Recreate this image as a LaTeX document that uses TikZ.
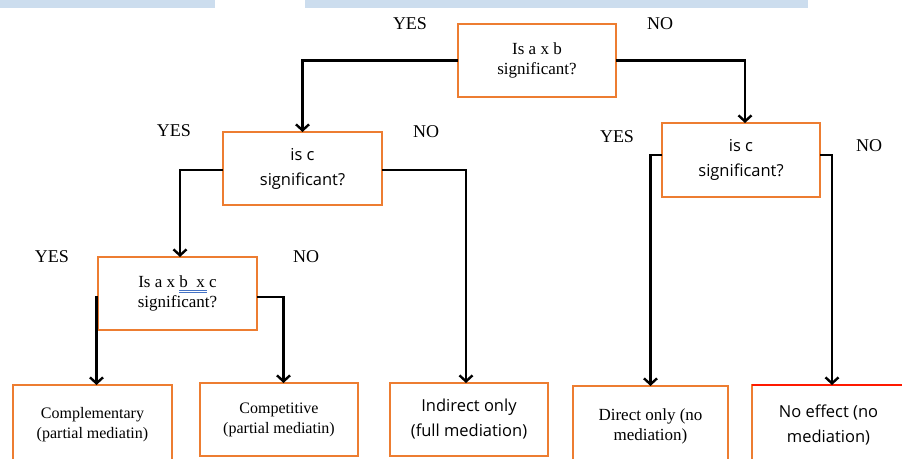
\documentclass[tikz,border=0pt]{standalone}
\usepackage{fontspec}
\setmainfont{Liberation Serif}
\newfontfamily\sansf{Open Sans}
\usetikzlibrary{arrows.meta,calc}
\definecolor{boxorange}{HTML}{ED7D31}
\definecolor{barblue}{HTML}{CCDDEE}
\definecolor{ulblue}{HTML}{4472C4}
\begin{document}
\begin{tikzpicture}[x=1pt,y=-1pt,
  qbox/.style={draw=boxorange,line width=2.2pt,fill=white,inner sep=0pt,outer sep=0pt,
    minimum width=159pt,minimum height=73pt,align=center},
  serif/.style={font=\fontsize{17}{20}\selectfont},
  serifb/.style={font=\fontsize{16}{20}\selectfont},
  sans/.style={font=\sansf\fontsize{16.5}{25}\selectfont},
  lbl/.style={font=\fontsize{18}{20}\selectfont,inner sep=0pt},
  conn/.style={line width=2.8pt,black,-{Straight Barb[length=6pt,width=13pt,line width=2.4pt]}}]
\useasboundingbox (0,0) rectangle (902,458);
\clip (0,0) rectangle (902,458);
% top bars
\fill[barblue] (0,0) rectangle (215,8);
\fill[barblue] (305,0) rectangle (808,8);
% nodes
\node[qbox,serif,minimum width=158pt] (b1) at (537,60.5) {Is a x b\\significant?};
\node[qbox,sans] (b2) at (302.5,168.5) {is c\\significant?};
\node[qbox,sans,minimum width=158pt,minimum height=74pt] (b3) at (741,160) {is c\\significant?};
\node[qbox,serif,minimum height=73pt] (b4) at (177.5,293.5) {Is a x b\ \ x c\\significant?};
\node[qbox,serifb,minimum height=80pt] (comp) at (92.5,425) {Complementary\\(partial mediatin)};
\node[qbox,serifb,minimum width=158pt] (compet) at (279,419.5) {Competitive\\(partial mediatin)};
\node[qbox,sans,minimum width=158pt] (ind) at (469,419.5) {Indirect only\\(full mediation)};
\node[qbox,serif,minimum width=155pt,minimum height=80pt] (dir) at (650.5,426) {Direct only (no\\mediation)};
\node[qbox,sans,minimum width=153pt,minimum height=80pt] (noe) at (828.5,425) {No effect (no\\mediation)};
\draw[red!80!orange,line width=1.5pt] (noe.north west) -- (noe.north east);
% blue double underline
\draw[ulblue,line width=0.8pt] (179,290) -- (207,290) (179,292.5) -- (207,292.5);
% connectors
\draw[conn] (b1.west) -| (b2.north);
\draw[conn] (b1.east) -| ([xshift=4pt]b3.north);
\draw[conn] ([yshift=-1.5pt]b2.west) -| ([xshift=2.5pt]b4.north);
\draw[conn] ([yshift=-1.5pt]b2.east) -| ([xshift=-3pt]ind.north);
\draw[conn] ([yshift=-3.5pt]b4.west) -| ([xshift=4pt]comp.north);
\draw[conn] ([yshift=-3.5pt]b4.east) -| ([xshift=4.5pt]compet.north);
\draw[conn] ([yshift=5pt]b3.west) -| (dir.north);
\draw[conn] ([yshift=5pt]b3.east) -| ([xshift=3.5pt]noe.north);
% labels
\node[lbl] (y1) at (410,24) {YES};
\node[lbl] (n1) at (660,24) {NO};
\node[lbl] (y2) at (174,131) {YES};
\node[lbl] (n2) at (426,132) {NO};
\node[lbl] (y3) at (52,257) {YES};
\node[lbl] (n3) at (306,257) {NO};
\node[lbl] (y4) at (617,137) {YES};
\node[lbl] (n4) at (869,146) {NO};
\end{tikzpicture}
\end{document}
